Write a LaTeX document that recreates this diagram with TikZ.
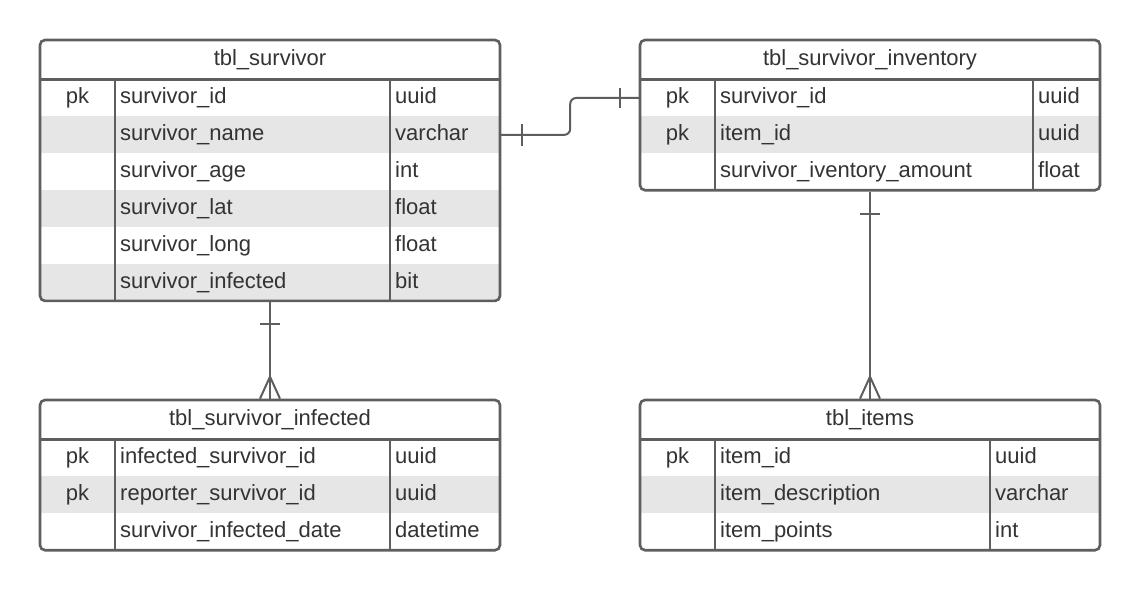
\documentclass[tikz,border=0pt]{standalone}
\usepackage{fontspec}
\setmainfont{Liberation Sans}
\usetikzlibrary{calc}
\definecolor{edge}{HTML}{5E5E5E}
\definecolor{shade}{HTML}{E6E6E6}
\definecolor{ink}{HTML}{333333}
\newcommand\fs{\fontsize{22}{26}\selectfont}
\begin{document}
\begin{tikzpicture}[x=1pt,y=-1pt,
  frame/.style={draw=edge,line width=2.6pt,rounded corners=5pt,inner sep=0pt,minimum width=460pt},
  rowbox/.style={inner sep=0pt,minimum width=460pt,minimum height=36.9pt},
  shaded/.style={rowbox,fill=shade},
  hdr/.style={anchor=base,text=ink,font=\fs,inner sep=0pt},
  cell/.style={anchor=base west,text=ink,font=\fs,inner sep=0pt},
  key/.style={anchor=base,text=ink,font=\fs,inner sep=0pt},
  hrule/.style={draw=edge,line width=2.6pt},
  vrule/.style={draw=edge,line width=2pt},
  link/.style={draw=edge,line width=2pt}]
\useasboundingbox[fill=white] (0,0) rectangle (1140,591);

% ---------- tbl_survivor ----------
\begin{scope}
\clip[rounded corners=5pt] (40,40) rectangle (500,300.9);
\node[rowbox] (a1) at (270,97.95) {};
\node[shaded] (a2) at (270,134.85) {};
\node[rowbox] (a3) at (270,171.75) {};
\node[shaded] (a4) at (270,208.65) {};
\node[rowbox] (a5) at (270,245.55) {};
\node[shaded] (a6) at (270,282.45) {};
\end{scope}
\node[frame,minimum height=260.9pt] (ta) at (270,170.45) {};
\draw[hrule] (40,79.5) -- (500,79.5);
\draw[vrule] (115,79.5) -- (115,300.9);
\draw[vrule] (390,79.5) -- (390,300.9);
\node[hdr] (ha) at (270,65.3) {tbl\_survivor};
\node[key] (ak1) at (77.5,103.65) {pk};
\node[cell] (an1) at (120,103.65) {survivor\_id};
\node[cell] (at1) at (395,103.65) {uuid};
\node[cell] (an2) at (120,140.55) {survivor\_name};
\node[cell] (at2) at (395,140.55) {varchar};
\node[cell] (an3) at (120,177.45) {survivor\_age};
\node[cell] (at3) at (395,177.45) {int};
\node[cell] (an4) at (120,214.35) {survivor\_lat};
\node[cell] (at4) at (395,214.35) {float};
\node[cell] (an5) at (120,251.25) {survivor\_long};
\node[cell] (at5) at (395,251.25) {float};
\node[cell] (an6) at (120,288.15) {survivor\_infected};
\node[cell] (at6) at (395,288.15) {bit};

% ---------- tbl_survivor_inventory ----------
\begin{scope}
\clip[rounded corners=5pt] (640,40) rectangle (1100,190.2);
\node[rowbox] (b1) at (870,97.95) {};
\node[shaded] (b2) at (870,134.85) {};
\node[rowbox] (b3) at (870,171.75) {};
\end{scope}
\node[frame,minimum height=150.2pt] (tb) at (870,115.1) {};
\draw[hrule] (640,79.5) -- (1100,79.5);
\draw[vrule] (715,79.5) -- (715,190.2);
\draw[vrule] (1033,79.5) -- (1033,190.2);
\node[hdr] (hb) at (870,65.3) {tbl\_survivor\_inventory};
\node[key] (bk1) at (677.5,103.65) {pk};
\node[cell] (bn1) at (720,103.65) {survivor\_id};
\node[cell] (bt1) at (1038,103.65) {uuid};
\node[key] (bk2) at (677.5,140.55) {pk};
\node[cell] (bn2) at (720,140.55) {item\_id};
\node[cell] (bt2) at (1038,140.55) {uuid};
\node[cell] (bn3) at (720,177.45) {survivor\_iventory\_amount};
\node[cell] (bt3) at (1038,177.45) {float};

% ---------- tbl_survivor_infected ----------
\begin{scope}
\clip[rounded corners=5pt] (40,400) rectangle (500,550.2);
\node[rowbox] (c1) at (270,457.95) {};
\node[shaded] (c2) at (270,494.85) {};
\node[rowbox] (c3) at (270,531.75) {};
\end{scope}
\node[frame,minimum height=150.2pt] (tc) at (270,475.1) {};
\draw[hrule] (40,439.5) -- (500,439.5);
\draw[vrule] (115,439.5) -- (115,550.2);
\draw[vrule] (390,439.5) -- (390,550.2);
\node[hdr] (hc) at (270,425.3) {tbl\_survivor\_infected};
\node[key] (ck1) at (77.5,463.65) {pk};
\node[cell] (cn1) at (120,463.65) {infected\_survivor\_id};
\node[cell] (ct1) at (395,463.65) {uuid};
\node[key] (ck2) at (77.5,500.55) {pk};
\node[cell] (cn2) at (120,500.55) {reporter\_survivor\_id};
\node[cell] (ct2) at (395,500.55) {uuid};
\node[cell] (cn3) at (120,537.45) {survivor\_infected\_date};
\node[cell] (ct3) at (395,537.45) {datetime};

% ---------- tbl_items ----------
\begin{scope}
\clip[rounded corners=5pt] (640,400) rectangle (1100,550.2);
\node[rowbox] (d1) at (870,457.95) {};
\node[shaded] (d2) at (870,494.85) {};
\node[rowbox] (d3) at (870,531.75) {};
\end{scope}
\node[frame,minimum height=150.2pt] (td) at (870,475.1) {};
\draw[hrule] (640,439.5) -- (1100,439.5);
\draw[vrule] (715,439.5) -- (715,550.2);
\draw[vrule] (990,439.5) -- (990,550.2);
\node[hdr] (hd) at (870,425.3) {tbl\_items};
\node[key] (dk1) at (677.5,463.65) {pk};
\node[cell] (dn1) at (720,463.65) {item\_id};
\node[cell] (dt1) at (995,463.65) {uuid};
\node[cell] (dn2) at (720,500.55) {item\_description};
\node[cell] (dt2) at (995,500.55) {varchar};
\node[cell] (dn3) at (720,537.45) {item\_points};
\node[cell] (dt3) at (995,537.45) {int};

% ---------- connectors ----------
% survivor -- inventory (one to one)
\draw[link,rounded corners=6pt] (a2.east) -- ++(70,0) |- (b1.west);
\draw[link] ($(a2.east)+(22,-11)$) -- ($(a2.east)+(22,11)$);
\draw[link] ($(b1.west)+(-20,-10)$) -- ($(b1.west)+(-20,10)$);
% survivor -- infected (one to many)
\draw[link] (ta.south) -- (tc.north);
\draw[link] ($(ta.south)+(-10,22)$) -- ($(ta.south)+(10,22)$);
\draw[link] ($(tc.north)+(-10,0)$) -- ($(tc.north)+(0,-22)$) -- ($(tc.north)+(10,0)$);
% inventory -- items (one to many)
\draw[link] (tb.south) -- (td.north);
\draw[link] ($(tb.south)+(-10,22)$) -- ($(tb.south)+(10,22)$);
\draw[link] ($(td.north)+(-10,0)$) -- ($(td.north)+(0,-22)$) -- ($(td.north)+(10,0)$);
\end{tikzpicture}
\end{document}
